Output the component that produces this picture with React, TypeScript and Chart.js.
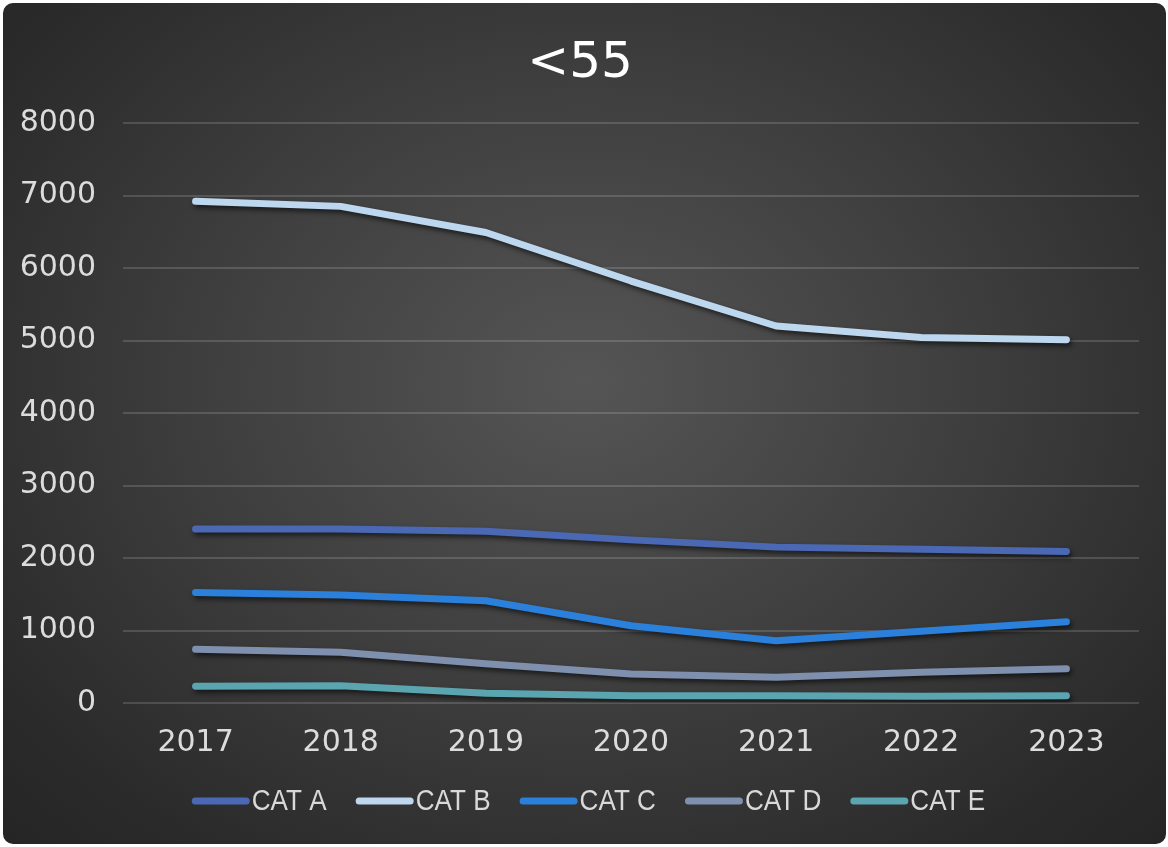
import React, { useEffect, useRef } from "react";
import { Chart, registerables } from "chart.js";

Chart.register(...registerables);

const years = ["2017", "2018", "2019", "2020", "2021", "2022", "2023"];
const catA = [2400, 2400, 2370, 2250, 2150, 2120, 2090];
const catB = [6920, 6850, 6490, 5820, 5200, 5040, 5010];
const catC = [1525, 1490, 1410, 1065, 860, 990, 1120];
const catD = [740, 700, 540, 400, 355, 425, 472];
const catE = [230, 238, 135, 100, 100, 92, 100];
const seriesNames = ["CAT A", "CAT B", "CAT C", "CAT D", "CAT E"];
const seriesColors = ["#4a68b3", "#bdd7ee", "#2a80db", "#7f8fae", "#5aa5b0"];
const yTicks = [0, 1000, 2000, 3000, 4000, 5000, 6000, 7000, 8000];

const shadowPlugin = {
  id: "lineShadow",
  beforeDatasetDraw(chart: any) {
    const ctx = chart.ctx;
    ctx.save();
    ctx.shadowColor = "rgba(0,0,0,0.6)";
    ctx.shadowBlur = 5;
    ctx.shadowOffsetX = 2;
    ctx.shadowOffsetY = 3;
  },
  afterDatasetDraw(chart: any) {
    chart.ctx.restore();
  },
};

// Legend drawn from the chart's own datasets (narrow text, marker right next to label)
const narrowLegendPlugin = {
  id: "narrowLegend",
  afterDraw(chart: any) {
    const ctx = chart.ctx;
    const ds = chart.data.datasets;
    const markerW = 58;
    const gap = 2;
    const itemGap = 29;
    const sx = 0.87;
    ctx.save();
    ctx.font = "30px 'Liberation Sans', Arial, sans-serif";
    const widths = ds.map((d: any) => ctx.measureText(d.label).width * sx);
    const total =
      widths.reduce((a: number, b: number) => a + b, 0) +
      ds.length * (markerW + gap) +
      (ds.length - 1) * itemGap;
    let x = chart.width / 2 + 4 - total / 2;
    const y = 798;
    ds.forEach((d: any, i: number) => {
      ctx.strokeStyle = d.borderColor;
      ctx.lineWidth = 7;
      ctx.lineCap = "round";
      ctx.beginPath();
      ctx.moveTo(x + 3.5, y);
      ctx.lineTo(x + markerW - 3.5, y);
      ctx.stroke();
      x += markerW + gap;
      ctx.save();
      ctx.translate(x, y);
      ctx.scale(sx, 1);
      ctx.fillStyle = "#d9d9d9";
      ctx.textBaseline = "middle";
      ctx.textAlign = "left";
      ctx.fillText(d.label, 0, 1);
      ctx.restore();
      x += widths[i] + itemGap;
    });
    ctx.restore();
  },
};

export default function App() {
  const ref = useRef<HTMLCanvasElement | null>(null);
  useEffect(() => {
    if (!ref.current) return;
    const allData = [catA, catB, catC, catD, catE];
    const chart = new Chart(ref.current, {
      type: "line",
      data: {
        labels: years,
        datasets: allData.map((d, i) => ({
          label: seriesNames[i],
          data: d,
          borderColor: seriesColors[i],
          backgroundColor: seriesColors[i],
          borderWidth: 7,
          borderCapStyle: "round" as const,
          borderJoinStyle: "round" as const,
          pointRadius: 0,
          pointHoverRadius: 0,
          tension: 0,
          fill: false,
        })),
      },
      options: {
        animation: false,
        responsive: false,
        maintainAspectRatio: false,
        layout: { padding: { left: 18, right: 27, top: 0, bottom: 83 } },
        plugins: {
          title: {
            display: true,
            text: "<55",
            color: "#ffffff",
            font: { family: "DejaVu Sans", size: 50, weight: "normal" },
            padding: { top: 31, bottom: 29 },
          },
          legend: { display: false },
          tooltip: { enabled: false },
        },
        scales: {
          x: {
            offset: true,
            grid: { display: false, drawTicks: false },
            border: { display: false },
            afterFit: (axis: any) => {
              axis.height = 58;
            },
            ticks: {
              color: "#dcdcdc",
              font: { family: "DejaVu Sans", size: 30 },
              padding: 22,
              maxRotation: 0,
            },
          },
          y: {
            min: 0,
            max: 8000,
            afterBuildTicks: (axis: any) => {
              axis.ticks = yTicks.map((v) => ({ value: v }));
            },
            afterFit: (axis: any) => {
              axis.width = 102;
            },
            grid: { color: "rgba(255,255,255,0.15)", lineWidth: 2, drawTicks: false },
            border: { display: false },
            ticks: {
              color: "#dcdcdc",
              font: { family: "DejaVu Sans", size: 30 },
              padding: 27,
              callback: (v: any) => String(v),
            },
          },
        },
      },
      plugins: [shadowPlugin, narrowLegendPlugin],
    });
    return () => chart.destroy();
  }, []);

  return (
    <div
      style={{
        position: "fixed",
        left: 3,
        top: 3,
        width: 1163,
        height: 841,
        borderRadius: 10,
        overflow: "hidden",
        background:
          "radial-gradient(ellipse at 50% 45%, #555555 0%, #3f3f3f 45%, #2a2a2a 85%, #252525 100%)",
      }}
    >
      <canvas ref={ref} width={1163} height={841} style={{ display: "block" }} />
    </div>
  );
}
